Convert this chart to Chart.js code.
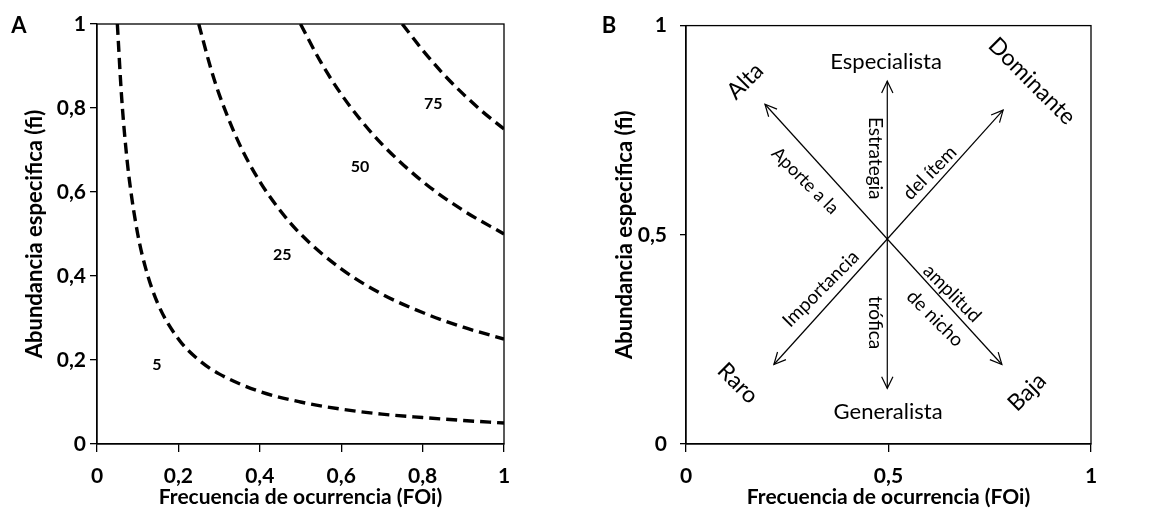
<!DOCTYPE html>
<html>
<head>
<meta charset="UTF-8">
<title>Importancia de presas</title>
<script src="https://cdn.jsdelivr.net/npm/chart.js@4.4.0/dist/chart.umd.min.js"></script>
<style>
body{margin:0;background:#fff;}
.panel{position:absolute;top:0;width:582px;height:524px;}
</style>
</head>
<body>
<div class="panel" style="left:0"><canvas id="chartA" width="582" height="524"></canvas></div>
<div class="panel" style="left:582px"><canvas id="chartB" width="582" height="524"></canvas></div>
<script>
// curvas de isoimportancia (grafico A)
const isoNames = ['5', '25', '50', '75'];
const foi5  = [0.05, 0.06, 0.07, 0.08, 0.1, 0.12, 0.15, 0.2, 0.25, 0.3, 0.4, 0.5, 0.6, 0.7, 0.8, 0.9, 1];
const fi5   = [1, 0.833, 0.714, 0.625, 0.5, 0.417, 0.333, 0.25, 0.2, 0.167, 0.125, 0.1, 0.083, 0.071, 0.063, 0.056, 0.05];
const foi25 = [0.25, 0.28, 0.3, 0.35, 0.4, 0.45, 0.5, 0.6, 0.7, 0.8, 0.9, 1];
const fi25  = [1, 0.893, 0.833, 0.714, 0.625, 0.556, 0.5, 0.417, 0.357, 0.313, 0.278, 0.25];
const foi50 = [0.5, 0.55, 0.6, 0.65, 0.7, 0.8, 0.9, 1];
const fi50  = [1, 0.909, 0.833, 0.769, 0.714, 0.625, 0.556, 0.5];
const foi75 = [0.75, 0.8, 0.85, 0.9, 0.95, 1];
const fi75  = [1, 0.938, 0.882, 0.833, 0.789, 0.75];

const ticksA = [0, 0.2, 0.4, 0.6, 0.8, 1];
const ticksB = [0, 0.5, 1];

// grafico B: centro y puntas de las flechas
const arrowCenter = [0.497, 0.49];
const arrowTipX = [0.497, 0.497, 0.195, 0.783, 0.217, 0.78];
const arrowTipY = [0.867, 0.133, 0.812, 0.798, 0.19, 0.19];

const FONT = 'Lato, "Liberation Sans", sans-serif';
const toXY = (xs, ys) => xs.map((x, i) => ({x: x, y: ys[i]}));
const fmt = v => String(+v.toFixed(2)).replace('.', ',');

// etiquetas de texto (coordenadas de datos)
const notesA = [
  {t: '5', x: 0.147, y: 0.188}, {t: '25', x: 0.455, y: 0.45},
  {t: '50', x: 0.646, y: 0.66}, {t: '75', x: 0.826, y: 0.81}
];
const notesB = [
  {t: 'Especialista', x: 0.494, y: 0.914, r: 0, s: 22},
  {t: 'Generalista', x: 0.499, y: 0.076, r: 0, s: 22},
  {t: 'Alta', x: 0.146, y: 0.867, r: -45, s: 23},
  {t: 'Dominante', x: 0.854, y: 0.867, r: 45, s: 23},
  {t: 'Raro', x: 0.128, y: 0.145, r: 45, s: 23},
  {t: 'Baja', x: 0.842, y: 0.124, r: -45, s: 23},
  {t: 'Estrategia', x: 0.467, y: 0.683, r: 90, s: 19},
  {t: 'trófica', x: 0.467, y: 0.29, r: 90, s: 19},
  {t: 'del ítem', x: 0.602, y: 0.648, r: -45, s: 19},
  {t: 'Aporte a la', x: 0.294, y: 0.629, r: 45, s: 18},
  {t: 'Importancia', x: 0.333, y: 0.371, r: -45, s: 19},
  {t: 'amplitud', x: 0.657, y: 0.36, r: 45, s: 19},
  {t: 'de nicho', x: 0.615, y: 0.30, r: 45, s: 19}
];

function axes(ticks, yWidth, yTickLen, yPad, yTitlePad) {
  const grid = {drawOnChartArea: false, drawTicks: true, color: '#000', lineWidth: 1.3};
  const tickFont = {family: FONT, size: 21, weight: 'bold'};
  return {
    x: {
      type: 'linear', min: 0, max: 1,
      afterBuildTicks: s => { s.ticks = ticks.map(v => ({value: v})); },
      afterFit: s => { s.height = 80; },
      ticks: {callback: v => fmt(v), color: '#000', padding: 12, font: tickFont},
      grid: Object.assign({tickLength: 8}, grid),
      border: {color: '#000', width: 1.3},
      title: {display: true, text: 'Frecuencia de ocurrencia (FOi)', color: '#000',
              font: {family: FONT, size: 21, weight: 'bold'}, padding: {bottom: 14}}
    },
    y: {
      type: 'linear', min: 0, max: 1,
      afterBuildTicks: s => { s.ticks = ticks.map(v => ({value: v})); },
      afterFit: s => { s.width = yWidth; },
      ticks: {callback: v => fmt(v), color: '#000', padding: yPad, font: tickFont},
      grid: Object.assign({tickLength: yTickLen}, grid),
      border: {color: '#000', width: 1.3},
      title: {display: true, text: 'Abundancia especifica (fi)', color: '#000',
              font: {family: FONT, size: 22, weight: 'bold'}, padding: {top: yTitlePad}}
    }
  };
}

function frame(letter, lx) {
  return {
    id: 'frame' + letter,
    afterDraw(chart) {
      const c = chart.ctx, a = chart.chartArea;
      c.save();
      c.strokeStyle = '#000';
      c.lineWidth = 1.3;
      c.strokeRect(a.left, a.top, a.right - a.left, a.bottom - a.top);
      c.fillStyle = '#000';
      c.font = 'bold 22px ' + FONT;
      c.textAlign = 'center';
      c.textBaseline = 'middle';
      c.fillText(letter, lx, 26);
      c.restore();
    }
  };
}

// ---------- grafico A ----------
const curveSets = [[foi5, fi5], [foi25, fi25], [foi50, fi50], [foi75, fi75]];
new Chart('chartA', {
  type: 'scatter',
  data: {
    datasets: curveSets.map((c, i) => ({
      label: isoNames[i],
      data: toXY(c[0], c[1]),
      showLine: true,
      borderColor: '#000',
      borderWidth: 3.4,
      borderDash: [11, 6],
      cubicInterpolationMode: 'monotone',
      pointRadius: 0
    }))
  },
  options: {
    responsive: false,
    animation: false,
    layout: {padding: {top: 24, right: 78, left: 0, bottom: 0}},
    plugins: {legend: {display: false}, tooltip: {enabled: false}},
    scales: axes(ticksA, 97, 7, 4, 22)
  },
  plugins: [frame('A', 19), {
    id: 'isoLabels',
    afterDatasetsDraw(chart) {
      const c = chart.ctx, sx = chart.scales.x, sy = chart.scales.y;
      c.save();
      c.fillStyle = '#000';
      c.font = 'bold 16px ' + FONT;
      c.textAlign = 'center';
      c.textBaseline = 'middle';
      notesA.forEach(n => c.fillText(n.t, sx.getPixelForValue(n.x), sy.getPixelForValue(n.y)));
      c.restore();
    }
  }]
});

// ---------- grafico B ----------
new Chart('chartB', {
  type: 'scatter',
  data: {
    datasets: arrowTipX.map((x, i) => ({
      data: [{x: arrowCenter[0], y: arrowCenter[1]}, {x: x, y: arrowTipY[i]}],
      showLine: true,
      borderColor: '#000',
      borderWidth: 1.2,
      pointRadius: 0
    }))
  },
  options: {
    responsive: false,
    animation: false,
    layout: {padding: {top: 24, right: 73, left: 0, bottom: 0}},
    plugins: {legend: {display: false}, tooltip: {enabled: false}},
    scales: axes(ticksB, 104, 6, 13, 30)
  },
  plugins: [frame('B', 27), {
    id: 'arrowsText',
    afterDatasetsDraw(chart) {
      const c = chart.ctx, sx = chart.scales.x, sy = chart.scales.y;
      const cx = sx.getPixelForValue(arrowCenter[0]), cy = sy.getPixelForValue(arrowCenter[1]);
      c.save();
      c.strokeStyle = '#000';
      c.lineWidth = 1.2;
      arrowTipX.forEach((x, i) => {
        const tx = sx.getPixelForValue(x), ty = sy.getPixelForValue(arrowTipY[i]);
        const ang = Math.atan2(ty - cy, tx - cx);
        c.beginPath();
        c.moveTo(tx - 13 * Math.cos(ang - 0.45), ty - 13 * Math.sin(ang - 0.45));
        c.lineTo(tx, ty);
        c.lineTo(tx - 13 * Math.cos(ang + 0.45), ty - 13 * Math.sin(ang + 0.45));
        c.stroke();
      });
      c.fillStyle = '#000';
      c.textAlign = 'center';
      c.textBaseline = 'middle';
      notesB.forEach(n => {
        c.save();
        c.translate(sx.getPixelForValue(n.x), sy.getPixelForValue(n.y));
        c.rotate(n.r * Math.PI / 180);
        c.font = n.s + 'px ' + FONT;
        c.fillText(n.t, 0, 0);
        c.restore();
      });
      c.restore();
    }
  }]
});
</script>
</body>
</html>
